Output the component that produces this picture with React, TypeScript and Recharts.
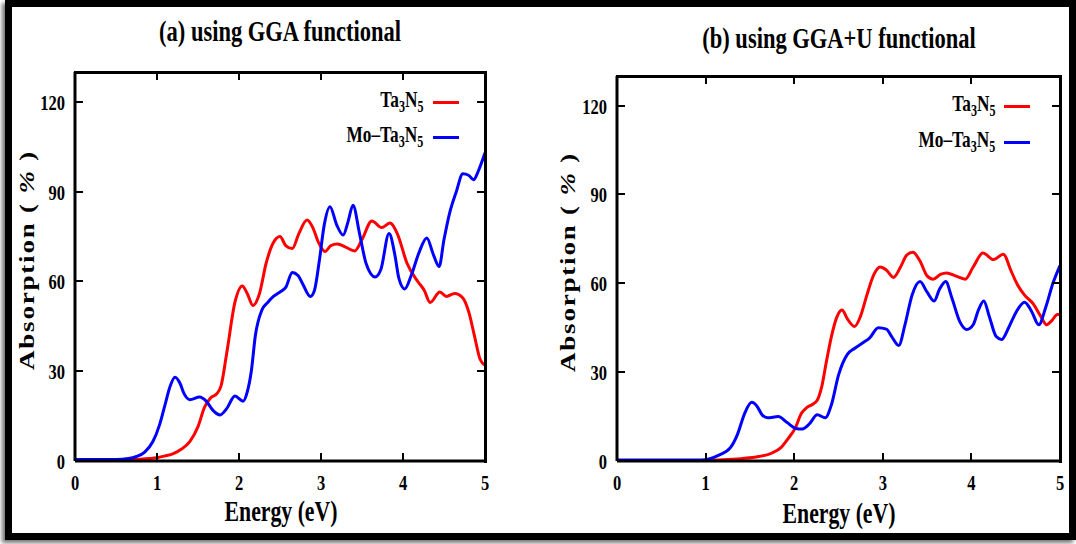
import { LineChart, Line, XAxis, YAxis } from "recharts"

const serif = "'Liberation Serif', 'Times New Roman', serif"
const squeeze = 0.75

const energyTicks = [0, 1, 2, 3, 4, 5]
const absTicks = [0, 30, 60, 90, 120]
const eMax = 5
const absMax = 130

// (a) GGA
const ggaTaE = [0, 0.5, 0.7, 0.9, 1.0, 1.1, 1.2, 1.3, 1.4, 1.5, 1.58, 1.65, 1.73, 1.78, 1.85, 1.95, 2.04, 2.1, 2.17, 2.25, 2.33, 2.42, 2.5, 2.57, 2.65, 2.73, 2.83, 2.9, 2.97, 3.05, 3.12, 3.2, 3.3, 3.41, 3.5, 3.62, 3.74, 3.84, 3.93, 4.05, 4.18, 4.26, 4.33, 4.45, 4.53, 4.63, 4.73, 4.8, 4.87, 4.94, 5.0]
const ggaTaAbs = [0.3, 0.3, 0.4, 0.8, 1.1, 1.7, 2.5, 4, 6.5, 11.5, 18, 21, 22.5, 25, 36, 53, 58.5, 56, 52, 56, 66, 73, 75, 72, 71, 76, 80.5, 78, 73, 70, 72, 72.5, 71.5, 70.2, 74, 80.2, 78, 79.5, 76, 66, 60, 57, 53, 56.5, 55, 56, 54.5, 50, 42, 34, 32]

const ggaMoE = [0, 0.5, 0.65, 0.75, 0.85, 0.95, 1.03, 1.1, 1.16, 1.22, 1.28, 1.33, 1.4, 1.52, 1.6, 1.68, 1.77, 1.85, 1.95, 2.05, 2.1, 2.15, 2.2, 2.28, 2.35, 2.42, 2.5, 2.57, 2.65, 2.72, 2.78, 2.87, 2.92, 2.98, 3.04, 3.11, 3.19, 3.27, 3.33, 3.39, 3.47, 3.55, 3.66, 3.73, 3.83, 3.9, 3.95, 4.02, 4.1, 4.2, 4.29, 4.37, 4.44, 4.5, 4.57, 4.65, 4.73, 4.8, 4.86, 4.92, 5.0]
const ggaMoAbs = [0.5, 0.5, 0.8, 1.5, 3, 6.5, 12, 19, 25, 28, 26, 22.5, 20.5, 21.4, 20, 17, 15.4, 17.5, 21.7, 20, 23, 30, 42, 50.5, 53, 55, 56.5, 58, 63, 62, 59, 55, 57, 67, 79, 85, 79, 75.5, 80, 85.5, 76, 66, 61.5, 64, 76, 69, 61, 57.5, 62, 70, 74.5, 69, 65, 74, 83, 90, 96, 95.5, 94, 97, 103]

// (b) GGA+U
const ggauTaE = [0, 1.0, 1.2, 1.4, 1.6, 1.75, 1.85, 1.93, 2.01, 2.08, 2.14, 2.2, 2.26, 2.31, 2.36, 2.42, 2.48, 2.54, 2.6, 2.68, 2.75, 2.82, 2.9, 2.97, 3.04, 3.12, 3.2, 3.27, 3.34, 3.42, 3.5, 3.57, 3.65, 3.72, 3.82, 3.93, 4.02, 4.13, 4.25, 4.36, 4.45, 4.52, 4.6, 4.7, 4.78, 4.85, 4.91, 4.97, 5.0]
const ggauTaAbs = [0.2, 0.2, 0.4, 0.8, 1.5, 2.7, 4.5, 7.5, 11, 16, 18, 19, 20.5, 25, 33, 42, 48.5, 51, 48, 45.4, 49, 56, 63, 65.5, 64.5, 62, 65.5, 69.5, 70.5, 67.5, 62.5, 61.4, 63, 63.5, 62.5, 61.4, 65.5, 70.2, 68, 69.8, 64, 59.5, 56, 53, 49, 46, 47.5, 49.5, 49.5]

const ggauMoE = [0, 0.95, 1.05, 1.15, 1.28, 1.36, 1.44, 1.52, 1.58, 1.64, 1.7, 1.82, 1.92, 2.02, 2.09, 2.17, 2.26, 2.35, 2.42, 2.5, 2.6, 2.68, 2.78, 2.85, 2.95, 3.04, 3.1, 3.18, 3.25, 3.33, 3.42, 3.5, 3.58, 3.64, 3.71, 3.78, 3.87, 3.95, 4.02, 4.08, 4.14, 4.2, 4.28, 4.34, 4.42, 4.5, 4.6, 4.68, 4.76, 4.84, 4.92, 5.0]
const ggauMoAbs = [0.3, 0.3, 0.8, 2, 4.5, 9, 16, 19.8, 18.5, 15.5, 14.6, 15, 13, 11, 10.8, 12.5, 15.6, 14.6, 19, 29, 36, 38, 40, 41.5, 45, 44.5, 42, 39, 46, 56, 60.6, 57, 54, 58, 60.6, 55, 47, 44.4, 46, 51, 54, 49, 42, 41, 45, 50, 53.6, 50.5, 46, 52, 60, 66]

// one table per panel: union of both energy grids, gaps bridged with connectNulls
const mergeSeries = (taE: number[], taV: number[], moE: number[], moV: number[]) => {
  const all = Array.from(new Set([...taE, ...moE])).sort((a, b) => a - b)
  return all.map((e) => {
    const i = taE.indexOf(e)
    const j = moE.indexOf(e)
    return { e, ta: i >= 0 ? taV[i] : null, mo: j >= 0 ? moV[j] : null }
  })
}

const tickText = { fontFamily: serif, fontWeight: 700, fontSize: 22, fill: "#000" }

const BottomTick = (p: any) => (
  <text transform={`translate(${p.x},${p.y + 29}) scale(${squeeze},1)`} textAnchor="middle" style={tickText}>{p.payload.value}</text>
)
const LeftTick = (p: any) => (
  <text transform={`translate(${p.x - 10},${p.y + 8}) scale(${squeeze},1)`} textAnchor="end" style={tickText}>{p.payload.value}</text>
)

const axisLine = { stroke: "#000", strokeWidth: 3 }
const chartH = 544
const yAxisW = 40
const xAxisH = 30

const bar = (left: number, top: number, width: number, height: number, key: string) => (
  <div key={key} style={{ position: "absolute", left, top, width, height, background: "#000" }} />
)

// box border (top/right) and inward ticks on all four sides, gnuplot style
function FrameOverlay(props: { width: number; margin: any }) {
  const left = props.margin.left + yAxisW
  const right = props.width - props.margin.right
  const top = props.margin.top
  const bottom = chartH - props.margin.bottom - xAxisH
  const marks = [
    bar(left - 1.5, top - 1.5, right - left + 3, 3, "top"),
    bar(right - 1.5, top - 1.5, 3, bottom - top + 3, "right"),
  ]
  energyTicks.slice(1, -1).forEach((t) => {
    const x = left + ((right - left) * t) / eMax
    marks.push(bar(x - 1, top, 2, 8, "tt" + t))
    marks.push(bar(x - 1, bottom - 8, 2, 8, "bt" + t))
  })
  absTicks.slice(1).forEach((t) => {
    const y = bottom - ((bottom - top) * t) / absMax
    marks.push(bar(left, y - 1, 8, 2, "lt" + t))
    marks.push(bar(right - 8, y - 1, 8, 2, "rt" + t))
  })
  return <>{marks}</>
}

function Panel(props: { width: number; margin: any; data: any[] }) {
  return (
    <div style={{ position: "relative", width: props.width, height: chartH }}>
      <LineChart width={props.width} height={chartH} margin={props.margin} data={props.data}>
        <XAxis dataKey="e" type="number" domain={[0, eMax]} ticks={energyTicks} height={xAxisH}
          tickSize={0} tickMargin={0} tickLine={false} axisLine={axisLine} tick={BottomTick} />
        <YAxis type="number" domain={[0, absMax]} ticks={absTicks} width={yAxisW} allowDataOverflow
          tickSize={0} tickMargin={0} tickLine={false} axisLine={axisLine} tick={LeftTick} />
        <Line dataKey="ta" type="monotone" connectNulls stroke="#ff0000" strokeWidth={3} dot={false} activeDot={false} isAnimationActive={false} />
        <Line dataKey="mo" type="monotone" connectNulls stroke="#0000ff" strokeWidth={3} dot={false} activeDot={false} isAnimationActive={false} />
      </LineChart>
      <FrameOverlay width={props.width} margin={props.margin} />
    </div>
  )
}

const txt = (extra: any) => ({
  position: "absolute" as const,
  fontFamily: serif,
  fontWeight: 700,
  color: "#000",
  whiteSpace: "nowrap" as const,
  lineHeight: 1,
  ...extra,
})

const Sub = (props: { children: any }) => (
  <span style={{ fontSize: "0.7em", position: "relative", top: "0.3em" }}>{props.children}</span>
)
const Formula = () => <span>Ta<Sub>3</Sub>N<Sub>5</Sub></span>

function LegendBox(props: { right: number; rows: number[]; lineLeft: number; lineWidth: number }) {
  const items = [
    { label: <Formula />, color: "#ff0000" },
    { label: <span>Mo–<Formula /></span>, color: "#0000ff" },
  ]
  return (
    <>
      {items.map((r, i) => (
        <div key={i}>
          <div style={txt({ fontSize: 23, right: props.right, top: props.rows[i] - 14, transform: `scaleX(${squeeze})`, transformOrigin: "right center" })}>{r.label}</div>
          <div style={{ position: "absolute", left: props.lineLeft, top: props.rows[i] - 1, width: props.lineWidth, height: 3, background: r.color }} />
        </div>
      ))}
    </>
  )
}

const YLabel = (props: { cx: number; cy: number }) => (
  <div style={txt({ fontSize: 27, left: props.cx, top: props.cy, letterSpacing: 1.8, transform: `translate(-50%, -50%) rotate(-90deg) scaleY(${squeeze})` })}>
    Absorption ( <i>%</i> )
  </div>
)

export default function App() {
  return (
    <div style={{ position: "relative", width: 1076, height: 544, background: "#fff", overflow: "hidden" }}>
      <style>{`body{margin:0}`}</style>
      <div style={{ position: "absolute", left: 5, top: 0, width: 1057, height: 526, border: "7px solid #000", boxShadow: "-3px 3px 4px #777" }} />
      <div style={{ position: "absolute", left: 0, top: 0 }}>
        <Panel width={540} margin={{ top: 72, left: 35, right: 55, bottom: 53 }} data={mergeSeries(ggaTaE, ggaTaAbs, ggaMoE, ggaMoAbs)} />
      </div>
      <div style={{ position: "absolute", left: 540, top: 0 }}>
        <Panel width={536} margin={{ top: 76, left: 37, right: 16, bottom: 53 }} data={mergeSeries(ggauTaE, ggauTaAbs, ggauMoE, ggauMoAbs)} />
      </div>

      <div style={txt({ fontSize: 30, left: 280, top: 16, transform: `translateX(-50%) scaleX(${squeeze})` })}>(a) using GGA functional</div>
      <div style={txt({ fontSize: 30, left: 839, top: 23, transform: `translateX(-50%) scaleX(${squeeze})` })}>(b) using GGA+U functional</div>

      <YLabel cx={28} cy={260} />
      <YLabel cx={569} cy={262} />

      <div style={txt({ fontSize: 29, left: 281, top: 497, transform: `translateX(-50%) scaleX(${squeeze})` })}>Energy (eV)</div>
      <div style={txt({ fontSize: 29, left: 839, top: 499, transform: `translateX(-50%) scaleX(${squeeze})` })}>Energy (eV)</div>

      <LegendBox right={1076 - 423} rows={[102, 137]} lineLeft={433} lineWidth={26} />
      <LegendBox right={1076 - 995} rows={[106, 142]} lineLeft={1004} lineWidth={26} />
    </div>
  )
}
